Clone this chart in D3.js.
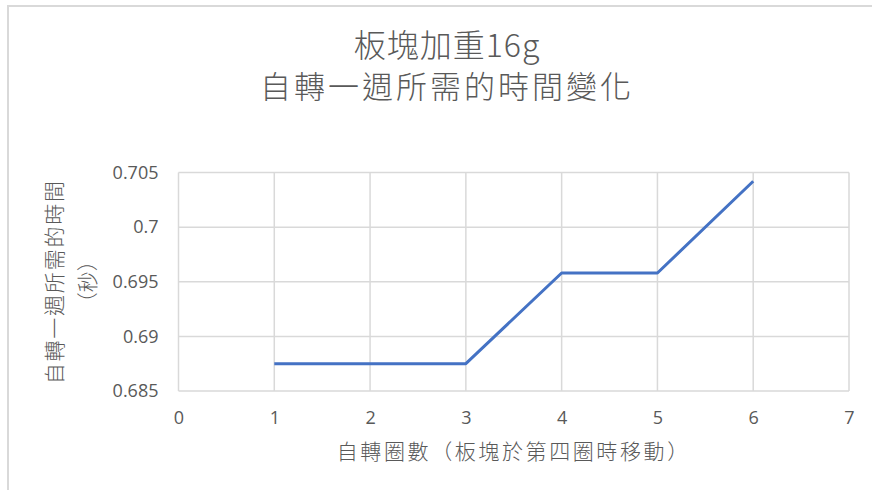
<!DOCTYPE html>
<html><head><meta charset="utf-8">
<script src="https://cdn.jsdelivr.net/npm/d3@7"></script>
<style>body{margin:0;background:#fff;}svg{display:block;}</style>
</head><body>
<svg id="c" width="872" height="490"></svg>
<script>
const titleLines = ["板塊加重16g", "自轉一週所需的時間變化"];
const xLabel = "自轉圈數（板塊於第四圈時移動）";
const yLabelLines = ["自轉一週所需的時間", "（秒）"];
const xValues = [1, 2, 3, 4, 5, 6];
const yValues = [0.6875, 0.6875, 0.6875, 0.6958, 0.6958, 0.7042];
const xTicks = [0, 1, 2, 3, 4, 5, 6, 7];
const yTicks = [0.685, 0.69, 0.695, 0.7, 0.705];
const yTickLabels = ["0.685", "0.69", "0.695", "0.7", "0.705"];

const svg = d3.select("#c");
const font = "'Noto Sans CJK TC','Noto Sans',sans-serif";
const gray = "#595959";
const grid = "#d9d9d9";

// chart frame (cropped)
svg.append("line").attr("x1",8).attr("x2",872).attr("y1",6).attr("y2",6).attr("stroke",grid).attr("stroke-width",2);
svg.append("line").attr("x1",8).attr("x2",8).attr("y1",5).attr("y2",490).attr("stroke",grid).attr("stroke-width",2);

const L = 178.5, R = 849, T = 172.5, B = 391;
const x = d3.scaleLinear().domain([0,7]).range([L,R]);
const y = d3.scaleLinear().domain([0.685,0.705]).range([B,T]);

// gridlines
svg.append("g").selectAll("line").data(yTicks).join("line")
  .attr("x1",L).attr("x2",R).attr("y1",d=>y(d)).attr("y2",d=>y(d))
  .attr("stroke",grid).attr("stroke-width",1.5);
svg.append("g").selectAll("line").data(xTicks).join("line")
  .attr("x1",d=>x(d)).attr("x2",d=>x(d)).attr("y1",T).attr("y2",B)
  .attr("stroke",grid).attr("stroke-width",1.5);

// axes via d3
const xAxis = svg.append("g").attr("transform",`translate(0,${B})`)
  .call(d3.axisBottom(x).tickValues(xTicks).tickSize(0).tickPadding(20).tickFormat(d3.format("d")));
xAxis.select(".domain").remove();
xAxis.selectAll("text").attr("fill",gray).style("font-family","'Open Sans',sans-serif").style("font-size","18px");

const yAxis = svg.append("g").attr("transform",`translate(${L},0)`)
  .call(d3.axisLeft(y).tickValues(yTicks).tickSize(0).tickPadding(20).tickFormat((d,i)=>yTickLabels[i]));
yAxis.select(".domain").remove();
yAxis.selectAll("text").attr("fill",gray).style("font-family","'Open Sans',sans-serif").style("font-size","18px");

// line
svg.append("path")
  .datum(xValues.map((v,i)=>[v,yValues[i]]))
  .attr("fill","none").attr("stroke","#4472c4").attr("stroke-width",3)
  .attr("stroke-linejoin","round")
  .attr("d", d3.line().x(d=>x(d[0])).y(d=>y(d[1])));

// titles
svg.append("text").attr("x",447).attr("y",57).attr("text-anchor","middle")
  .attr("fill",gray).style("font-family",font).style("font-size","32px").style("font-weight",300)
  .attr("letter-spacing","1px")
  .text(titleLines[0]);
svg.append("text").attr("x",447).attr("y",98).attr("text-anchor","middle")
  .attr("fill",gray).style("font-family",font).style("font-size","31px").style("font-weight",300)
  .attr("letter-spacing","3px")
  .text(titleLines[1]);

svg.append("text").attr("x",(L+R)/2).attr("y",459).attr("text-anchor","middle")
  .attr("fill",gray).style("font-family",font).style("font-size","21px").style("font-weight",300)
  .attr("letter-spacing","2.6px")
  .text(xLabel);

const yc = (T+B)/2;
svg.append("text").attr("transform",`translate(62,${yc}) rotate(-90)`).attr("text-anchor","middle")
  .attr("fill",gray).style("font-family",font).style("font-size","21px").style("font-weight",300)
  .attr("letter-spacing","1.8px")
  .text(yLabelLines[0]);
svg.append("text").attr("transform",`translate(95,${yc}) rotate(-90)`).attr("text-anchor","middle")
  .attr("fill",gray).style("font-family",font).style("font-size","21px").style("font-weight",300)
  .text(yLabelLines[1]);
</script>
</body></html>
